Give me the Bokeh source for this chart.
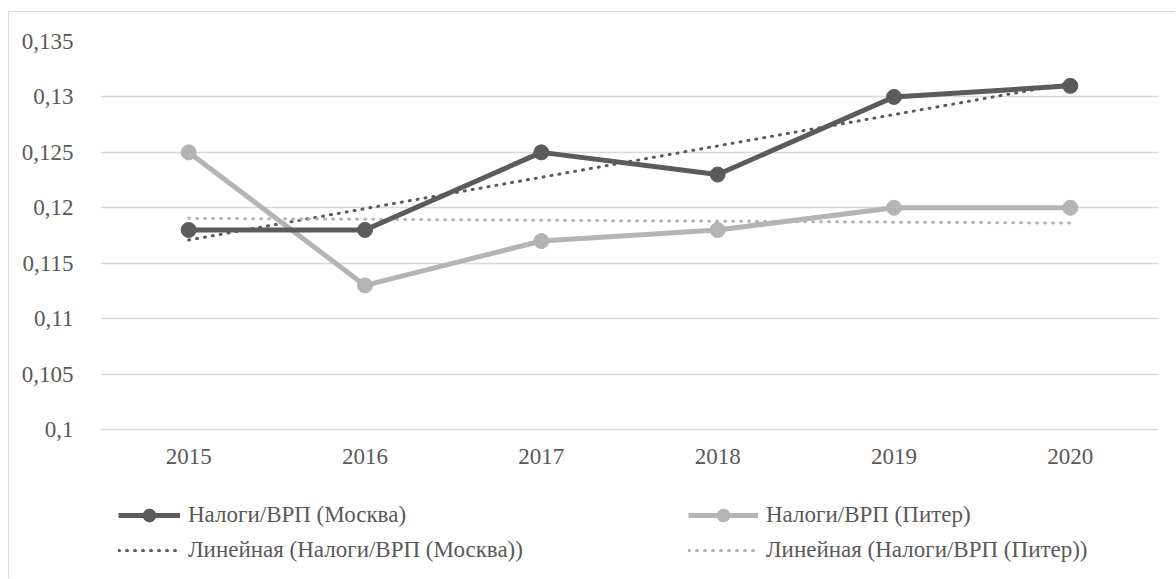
import numpy as np
from bokeh.plotting import figure
from bokeh.models import (FixedTicker, CustomJSTickFormatter, Legend, LegendItem, Range1d)
from bokeh.core.properties import value
from bokeh.embed import file_html
from bokeh.resources import INLINE

years = [2015, 2016, 2017, 2018, 2019, 2020]
year_labels = [str(y) for y in years]
moscow = [0.118, 0.118, 0.125, 0.123, 0.130, 0.131]
piter = [0.125, 0.113, 0.117, 0.118, 0.120, 0.120]
y_ticks = [0.1, 0.105, 0.11, 0.115, 0.12, 0.125, 0.13, 0.135]

name_m = "Налоги/ВРП (Москва)"
name_p = "Налоги/ВРП (Питер)"
trend_m_name = "Линейная (Налоги/ВРП (Москва))"
trend_p_name = "Линейная (Налоги/ВРП (Питер))"

DARK = "#5b5b5b"
LIGHT = "#b4b4b6"
TEXT = "#595959"
GRID = "#d9d9d9"
FONT = "Liberation Serif"
FS = "23px"
LFS = "23px"

# linear trend lines (least squares over the series index, as Excel does)
idx = np.arange(1, len(years) + 1)
km, bm = np.polyfit(idx, moscow, 1)
kp, bp = np.polyfit(idx, piter, 1)
trend_m = km * idx + bm
trend_p = kp * idx + bp

# frame extends below the value axis to hold the category labels and legend
Y_LO, Y_HI = 0.1, 0.135
extra = (Y_HI - Y_LO) * 150 / 388

p = figure(width=1167, height=567, output_backend="svg", toolbar_location=None,
           x_range=Range1d(2014.5, 2020.5), y_range=Range1d(Y_LO - extra, Y_HI),
           min_border_left=91, min_border_right=18, min_border_top=29, min_border_bottom=0)
p.styles = {"margin-left": "8px", "margin-top": "11px",
            "border-left": f"1px solid {GRID}", "border-top": f"1px solid {GRID}"}
p.outline_line_color = None
p.background_fill_color = "white"
p.border_fill_color = "white"

p.xgrid.grid_line_color = None
p.ygrid.grid_line_color = GRID
p.ygrid.grid_line_width = 1.3
p.xaxis.visible = False

p.yaxis.ticker = FixedTicker(ticks=y_ticks)
p.yaxis.formatter = CustomJSTickFormatter(code="""
let s = tick.toFixed(3).replace(/0+$/, '');
return s.replace('.', ',');
""")
ax = p.yaxis[0]
ax.axis_line_color = None
ax.major_tick_line_color = None
ax.minor_tick_line_color = None
ax.major_label_text_font = FONT
ax.major_label_text_font_size = FS
ax.major_label_text_color = TEXT
ax.major_label_standoff = 21

# category labels under the value axis
p.text(x=years, y=[Y_LO] * len(years), text=year_labels, text_align="center",
       text_baseline="alphabetic", y_offset=27, text_font=value(FONT),
       text_font_size=FS, text_color=TEXT)

r_tm = p.line(years, trend_m, line_color=DARK, line_width=3, line_dash="1 7", line_cap="round")
r_tp = p.line(years, trend_p, line_color=LIGHT, line_width=3, line_dash="1 7", line_cap="round")
r_pl = p.line(years, piter, line_color=LIGHT, line_width=5)
r_pp = p.scatter(years, piter, size=15, fill_color=LIGHT, line_color=LIGHT)
r_ml = p.line(years, moscow, line_color=DARK, line_width=5)
r_mp = p.scatter(years, moscow, size=15, fill_color=DARK, line_color=DARK)

def make_legend(items, loc, gw):
    return Legend(items=items, location=loc, orientation="vertical",
                  border_line_color=None, background_fill_alpha=0,
                  padding=0, margin=0, spacing=3, glyph_width=gw, glyph_height=32,
                  label_standoff=8, label_height=32,
                  label_text_font=FONT, label_text_font_size=LFS,
                  label_text_color=TEXT)

leg1 = make_legend([LegendItem(label=name_m, renderers=[r_ml, r_mp]),
                    LegendItem(label=trend_m_name, renderers=[r_tm])], (18, 13), 62)
leg2 = make_legend([LegendItem(label=name_p, renderers=[r_pl, r_pp]),
                    LegendItem(label=trend_p_name, renderers=[r_tp])], (588, 13), 70)
p.add_layout(leg1)
p.add_layout(leg2)

open("out.html", "w").write(file_html(p, INLINE))
